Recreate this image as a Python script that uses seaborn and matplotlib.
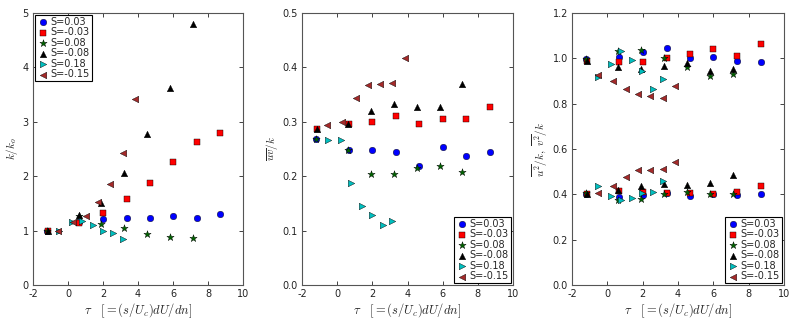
import matplotlib
matplotlib.use("Agg")
import matplotlib.pyplot as plt
import seaborn as sns
import pandas as pd

sns.set_style("ticks")
plt.rcParams['font.family'] = ['DejaVu Sans']
plt.rcParams['mathtext.fontset'] = 'cm'

labels = ["S=0.03", "S=-0.03", "S=0.08", "S=-0.08", "S=0.18", "S=-0.15"]
markers = ["o", "s", "*", "^", ">", "<"]
colors = ["#0000ff", "#ff0000", "#006400", "#000000", "#00bfbf", "#a52a2a"]

# tau positions per series
tau_003 = [-1.2, 0.65, 2.0, 3.35, 4.68, 6.0, 7.35, 8.7]
tau_m003 = [-1.15, 0.65, 2.0, 3.35, 4.68, 6.0, 7.35, 8.7]
tau_008 = [-1.2, 0.62, 1.9, 3.22, 4.52, 5.83, 7.12]
tau_m008 = [-1.15, 0.62, 1.9, 3.22, 4.52, 5.83, 7.12]
tau_018 = [-0.52, 0.22, 0.8, 1.4, 1.98, 2.58, 3.14]
tau_m015 = [-0.55, 0.3, 1.05, 1.73, 2.42, 3.13, 3.83]

# panel 1: k/k_o
k_003 = [1.0, 1.15, 1.21, 1.23, 1.23, 1.27, 1.23, 1.31]
k_m003 = [1.0, 1.14, 1.32, 1.58, 1.88, 2.26, 2.62, 2.79]
k_008 = [1.0, 1.27, 1.13, 1.04, 0.94, 0.89, 0.87]
k_m008 = [1.0, 1.28, 1.51, 2.05, 2.77, 3.63, 4.8]
k_018 = [1.0, 1.15, 1.17, 1.11, 1.0, 0.96, 0.84]
k_m015 = [1.0, 1.15, 1.26, 1.53, 1.86, 2.42, 3.42]

# panel 2: uv/k
uv_003 = [0.269, 0.248, 0.248, 0.244, 0.219, 0.254, 0.238, 0.244]
uv_m003 = [0.286, 0.296, 0.300, 0.310, 0.296, 0.305, 0.305, 0.328]
uv_008 = [0.269, 0.249, 0.204, 0.204, 0.215, 0.218, 0.208]
uv_m008 = [0.286, 0.296, 0.319, 0.332, 0.328, 0.328, 0.369]
uv_018 = [0.266, 0.267, 0.188, 0.145, 0.128, 0.111, 0.117]
uv_m015 = [0.294, 0.300, 0.344, 0.368, 0.370, 0.372, 0.417]

# panel 3: u^2/k (upper) and v^2/k (lower)
u2_003 = [0.997, 1.007, 1.027, 1.047, 1.003, 1.007, 0.987, 0.985]
u2_m003 = [0.99, 0.984, 0.982, 1.0, 1.02, 1.04, 1.01, 1.065]
u2_008 = [0.997, 1.034, 1.035, 1.0, 0.96, 0.92, 0.93]
u2_m008 = [0.99, 0.96, 0.952, 0.967, 0.98, 0.944, 0.952]
u2_018 = [0.917, 0.973, 1.034, 0.993, 0.942, 0.866, 0.907]
u2_m015 = [0.926, 0.898, 0.863, 0.841, 0.833, 0.823, 0.878]

v2_003 = [0.403, 0.389, 0.395, 0.404, 0.392, 0.403, 0.397, 0.403]
v2_m003 = [0.403, 0.414, 0.409, 0.406, 0.406, 0.403, 0.411, 0.435]
v2_008 = [0.405, 0.376, 0.378, 0.400, 0.411, 0.401, 0.400]
v2_m008 = [0.403, 0.420, 0.437, 0.447, 0.441, 0.448, 0.487]
v2_018 = [0.437, 0.392, 0.376, 0.385, 0.407, 0.411, 0.457]
v2_m015 = [0.407, 0.435, 0.478, 0.507, 0.507, 0.512, 0.544]

taus = [tau_003, tau_m003, tau_008, tau_m008, tau_018, tau_m015]
k_all = [k_003, k_m003, k_008, k_m008, k_018, k_m015]
uv_all = [uv_003, uv_m003, uv_008, uv_m008, uv_018, uv_m015]
u2_all = [u2_003, u2_m003, u2_008, u2_m008, u2_018, u2_m015]
v2_all = [v2_003, v2_m003, v2_008, v2_m008, v2_018, v2_m015]

fig = plt.figure(figsize=(8, 3.2), dpi=100)
W, H = 800, 320
boxes = [(33, 243), (302, 513), (572, 784)]
top, bot = 13, 285
axes = [fig.add_axes([l / W, (H - bot) / H, (r - l) / W, (bot - top) / H]) for l, r in boxes]

sizes = {"o": 22, "s": 22, "*": 30, "^": 22, ">": 22, "<": 22}

def draw(ax, ylists, legend):
    for i in range(6):
        df = pd.DataFrame({"tau": taus[i], "y": ylists[i]})
        sns.scatterplot(data=df, x="tau", y="y", ax=ax, marker=markers[i], color=colors[i],
                        s=sizes[markers[i]], edgecolor="black", linewidth=0.3,
                        label=labels[i] if legend else None, zorder=3)

draw(axes[0], k_all, True)
draw(axes[1], uv_all, True)
draw(axes[2], u2_all, False)
draw(axes[2], v2_all, True)

ylims = [(0, 5), (0, 0.5), (0, 1.2)]
yticks = [[0, 1, 2, 3, 4, 5], [0.0, 0.1, 0.2, 0.3, 0.4, 0.5], [0.0, 0.2, 0.4, 0.6, 0.8, 1.0, 1.2]]
yfmt = ["{:.0f}", "{:.1f}", "{:.1f}"]
ylabels = [r"$k/k_o$", r"$\overline{uv}/k$", r"$\overline{u^2}/k,\ \overline{v^2}/k$"]
locs = ["upper left", "lower right", "lower right"]

for ax, yl, yt, fm, lab, loc in zip(axes, ylims, yticks, yfmt, ylabels, locs):
    ax.set_xlim(-2, 10)
    ax.set_ylim(*yl)
    ax.set_xticks([-2, 0, 2, 4, 6, 8, 10])
    ax.set_xticklabels([str(v) for v in [-2, 0, 2, 4, 6, 8, 10]])
    ax.set_yticks(yt)
    ax.set_yticklabels([fm.format(v) for v in yt])
    ax.tick_params(direction="in", top=True, right=True, labelsize=7, length=3, width=0.6, pad=3, colors="#222222")
    for s in ax.spines.values():
        s.set_color("#555555")
        s.set_linewidth(0.8)
    ax.set_xlabel(r"$\tau\quad[=(s/U_c)dU/dn]$", fontsize=9, labelpad=2)
    ax.set_ylabel(lab, fontsize=8, labelpad=2)
    leg = ax.legend(loc=loc, fontsize=7, frameon=True, fancybox=False, borderpad=0.2,
                    labelspacing=0.05, handletextpad=0.2, borderaxespad=0.2, handlelength=1.2,
                    scatterpoints=1)
    leg.get_frame().set_edgecolor("black")
    leg.get_frame().set_linewidth(0.8)
    leg.get_frame().set_alpha(1)

fig.savefig("out.png", dpi=100)
